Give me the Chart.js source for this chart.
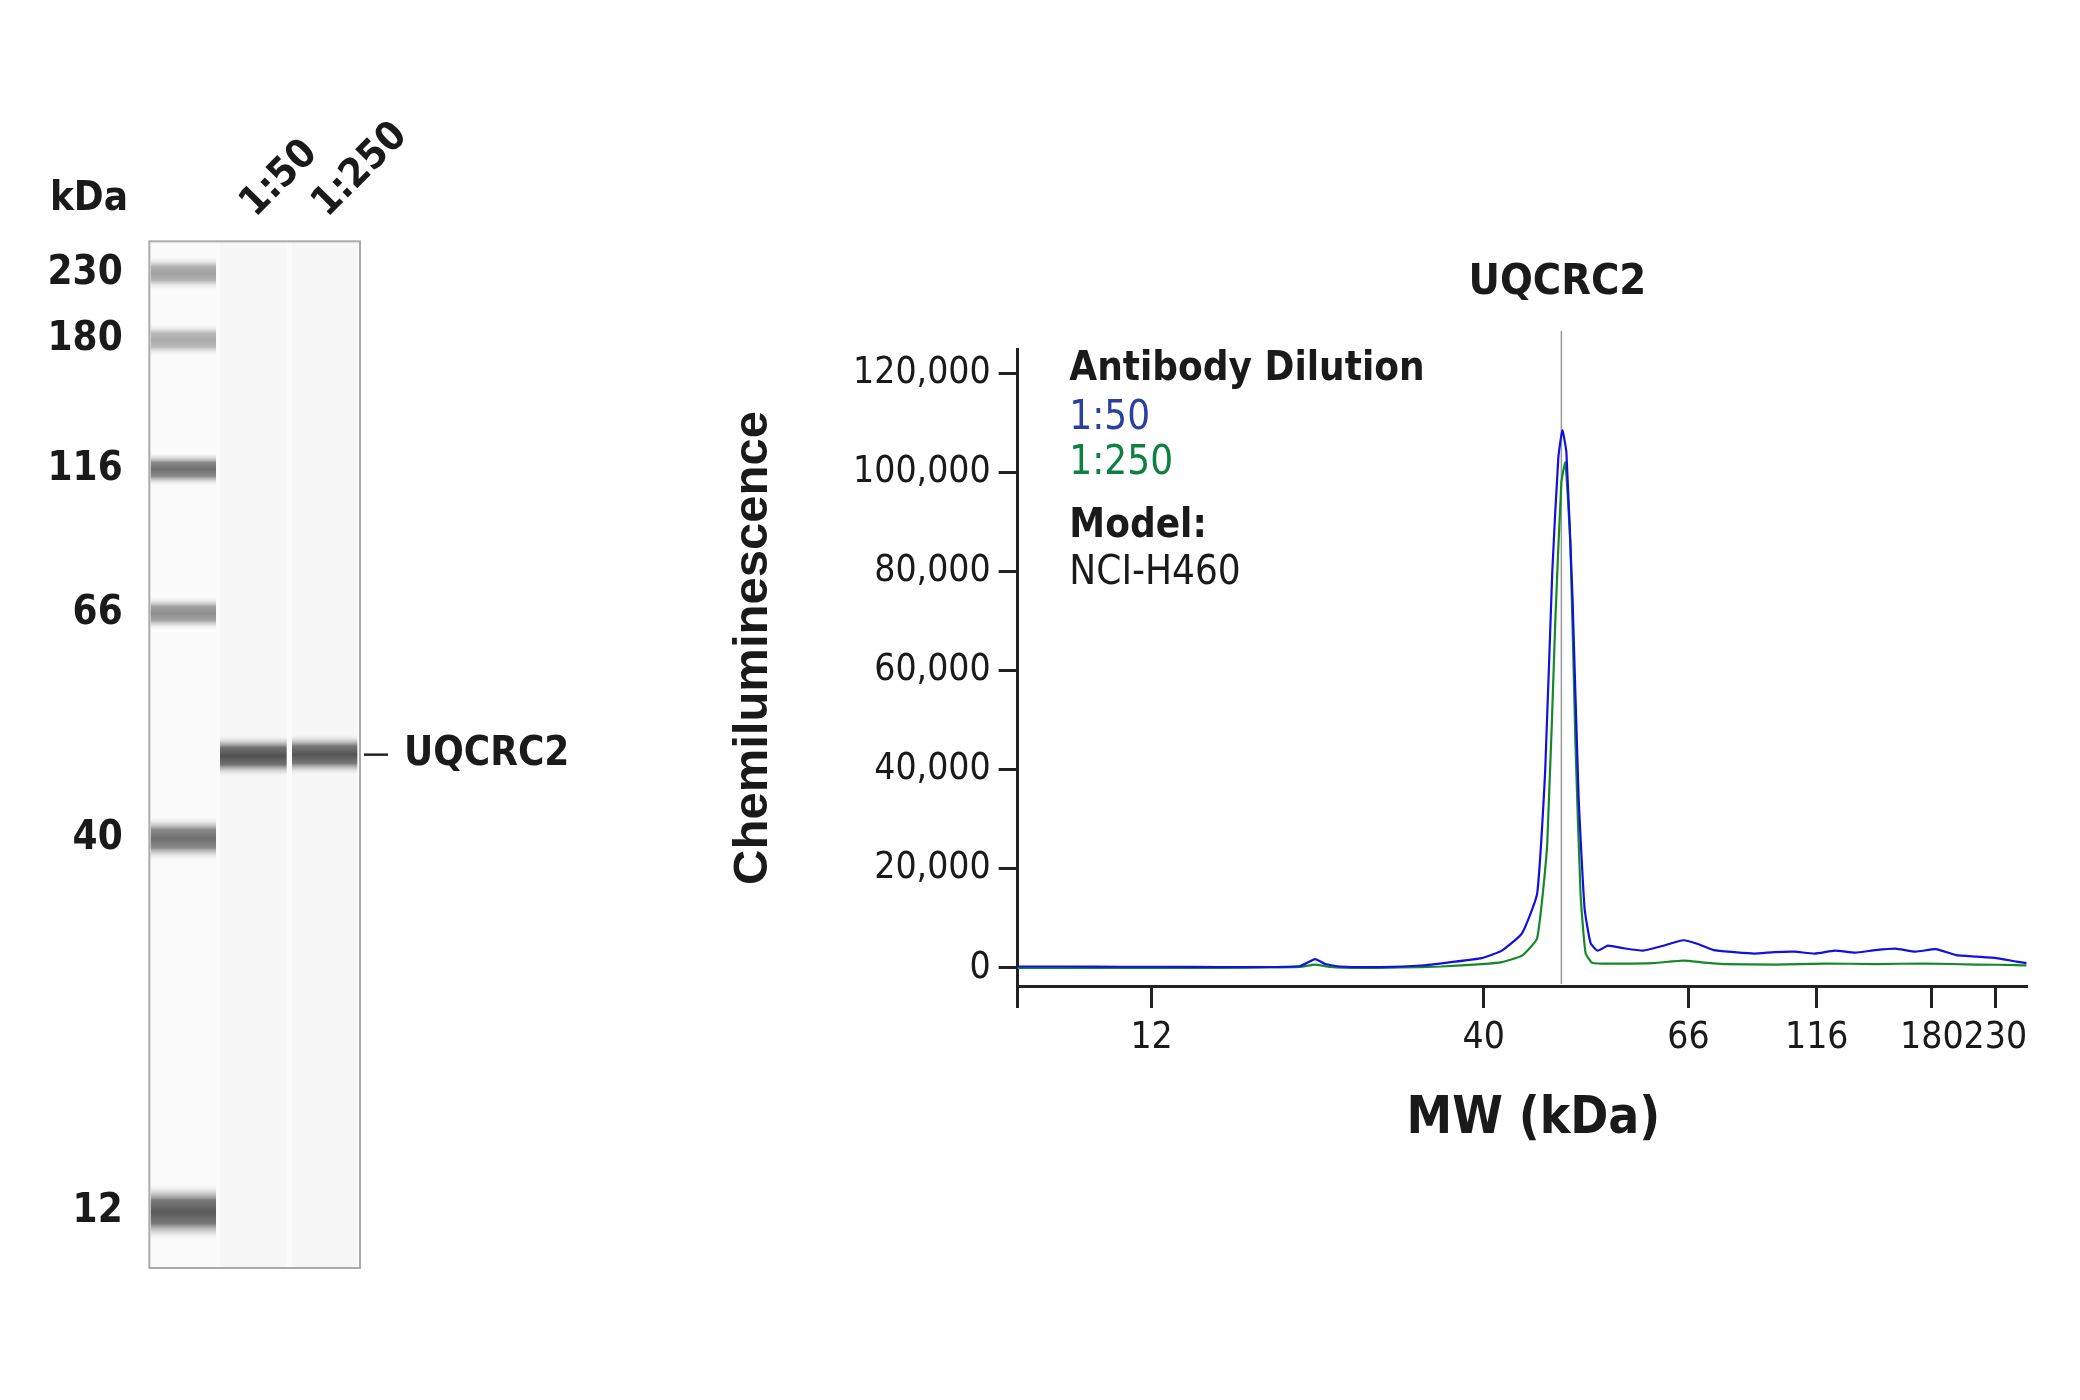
<!DOCTYPE html>
<html><head><meta charset="utf-8">
<script src="https://cdn.jsdelivr.net/npm/chart.js@4"></script>
<style>body{margin:0;background:#fff;width:2080px;height:1400px;overflow:hidden}
canvas{position:absolute;left:0;top:0}</style></head>
<body>
<canvas id="gel" width="2080" height="1400"></canvas>
<canvas id="ep" width="2080" height="1400"></canvas>
<script>
// ---- data ----
const ladderKDa = ["230","180","116","66","40","12"];
const ladderMigration = [24, 74, 171, 279, 448, 728];   // band position down the gel
const ladderIntensity = [0.45, 0.4, 0.7, 0.55, 0.7, 0.8];
const laneNames = ["1:50", "1:250"];
const sampleMigration = [386, 385];
const sampleIntensity = [0.85, 0.82];
const mwTickLabels = ["12","40","66","116","180","230"];
const mwTickPos = [13.3, 46.2, 66.5, 79.2, 90.6, 96.9];
const peakPos = 53.9;
const blueX = [0,5,10,15,20,25,28,29.5,30.5,32,36,40,43,46,48,50,51.5,52.3,53,53.6,54.0,54.4,55,55.6,56.2,56.8,57.5,58.5,60,62,64,66,67.5,69,71,73,75,77,79,81,83,85,87,89,91,93,95,97,99,100];
const blueY = [300,300,250,250,200,200,400,1800,800,300,200,500,1200,2000,3500,7000,15000,40000,80000,103000,108500,104000,75000,35000,12000,5000,3500,4500,4000,3500,4500,5600,4800,3600,3200,2900,3200,3300,2900,3500,3100,3600,3900,3300,3800,2600,2300,2000,1300,1000];
const greenX = [0,5,10,15,20,25,28,29.5,31,34,38,42,46,48,50,51.5,52.5,53.3,53.9,54.3,54.8,55.3,55.8,56.3,57,60,63,66,68,70,75,80,85,90,95,99,100];
const greenY = [0,0,0,0,0,100,200,700,200,0,100,300,800,1200,2500,6000,25000,70000,98000,102000,85000,45000,15000,3000,1000,900,1000,1500,1100,800,700,900,800,900,700,600,500];

const SX = 4/3, SY = 4/3;
const X = v => v*SX, Y = v => v*SY;
const FONT = "'Liberation Sans Narrow','DejaVu Sans Condensed',sans-serif";
const f = (px, bold) => (bold ? "bold " : "") + Math.round(px*SX) + "px " + FONT;

// ---- gel ----
new Chart(document.getElementById('gel'), {
  type: 'scatter',
  data: { datasets: [] },
  options: {
    responsive: false, animation: false, devicePixelRatio: 1,
    layout: { padding: { top: Y(181), right: 2080 - X(270), bottom: 1400 - Y(951), left: 0 } },
    plugins: { legend: { display: false }, tooltip: { enabled: false } },
    scales: {
      x: { type: 'linear', min: 0, max: 3, display: false },
      y: { type: 'linear', min: 0, max: 770, reverse: true,
        afterFit: s => { s.width = X(112); },
        afterBuildTicks: s => { s.ticks = ladderMigration.map(v => ({ value: v })); },
        ticks: { callback: (v, i) => ladderKDa[i], color: '#1a1a1a', font: { family: FONT, size: Math.round(30*SX), weight: 'bold' }, padding: X(14) },
        grid: { display: false }, border: { display: false } }
    }
  },
  plugins: [{
    id: 'gelDraw',
    beforeDatasetsDraw(chart) {
      const { ctx, chartArea: a, scales: { x, y } } = chart;
      ctx.save();
      ctx.fillStyle = '#fbfbfb'; ctx.fillRect(a.left, a.top, a.right - a.left, a.bottom - a.top);
      const laneEdges = [[113,162],[165,215],[219,268]];
      laneEdges.forEach((e, i) => { if (i) { ctx.fillStyle = '#f7f7f7'; ctx.fillRect(X(e[0]), a.top, X(e[1]) - X(e[0]), a.bottom - a.top); } });
      const band = (l, r, m, h, k) => {
        const yc = y.getPixelForValue(m);
        const g = ctx.createLinearGradient(0, yc - h, 0, yc + h);
        const c = Math.round(250 - 200*k);
        g.addColorStop(0, 'rgba(255,255,255,0)');
        g.addColorStop(0.3, `rgba(${c},${c},${c},0.8)`);
        g.addColorStop(0.5, `rgb(${c},${c},${c})`);
        g.addColorStop(0.7, `rgba(${c},${c},${c},0.8)`);
        g.addColorStop(1, 'rgba(255,255,255,0)');
        ctx.fillStyle = g; ctx.fillRect(l, yc - h, r - l, 2*h);
      };
      ladderMigration.forEach((m, i) => band(X(113), X(162), m, Y(i === 5 ? 22 : (i === 4 ? 17 : 13)), ladderIntensity[i]));
      sampleMigration.forEach((m, i) => band(X(laneEdges[i+1][0]), X(laneEdges[i+1][1]), m, Y(16), sampleIntensity[i]));
      ctx.strokeStyle = '#aaa'; ctx.lineWidth = 2;
      ctx.strokeRect(a.left, a.top, a.right - a.left, a.bottom - a.top);
      ctx.fillStyle = '#1a1a1a'; ctx.font = f(30, true); ctx.textAlign = 'right'; ctx.textBaseline = 'middle';
      ctx.fillText('kDa', X(96), Y(150));
      laneNames.forEach((n, i) => {
        ctx.save(); ctx.translate(X([186, 240][i]), Y(158)); ctx.rotate(-Math.PI/4);
        ctx.textAlign = 'left'; ctx.fillText(n, 0, 0); ctx.restore();
      });
      const yb = y.getPixelForValue(sampleMigration[1]);
      ctx.strokeStyle = '#222'; ctx.lineWidth = 2.5;
      ctx.beginPath(); ctx.moveTo(X(273), yb); ctx.lineTo(X(291), yb); ctx.stroke();
      ctx.textAlign = 'left'; ctx.fillText('UQCRC2', X(303), yb);
      ctx.restore();
    }
  }]
});

// ---- electropherogram ----
new Chart(document.getElementById('ep'), {
  type: 'line',
  data: { datasets: [
    { data: blueX.map((v, i) => ({ x: v, y: blueY[i] })), borderColor: '#1010e0', borderWidth: 2.2, pointRadius: 0, tension: 0.15 },
    { data: greenX.map((v, i) => ({ x: v, y: greenY[i] })), borderColor: '#17882a', borderWidth: 2.2, pointRadius: 0, tension: 0.15 }
  ] },
  options: {
    responsive: false, animation: false, devicePixelRatio: 1,
    layout: { padding: { top: Y(262), right: 2080 - X(1520), bottom: 0, left: 0 } },
    plugins: { legend: { display: false }, tooltip: { enabled: false } },
    scales: {
      x: { type: 'linear', min: 0, max: 100,
        afterFit: s => { s.height = 1400 - Y(740); },
        afterBuildTicks: s => { s.ticks = [{ value: 0 }].concat(mwTickPos.map(v => ({ value: v }))); },
        ticks: { autoSkip: false, maxRotation: 0, callback: (v, i) => i ? mwTickLabels[i-1] : '', color: '#1a1a1a', font: { family: FONT, size: Math.round(28*SX) }, padding: Y(6) },
        grid: { drawOnChartArea: false, tickLength: Y(16), color: '#222', lineWidth: 3 },
        border: { color: '#222', width: 3 } },
      y: { type: 'linear', min: -3767, max: 124843,
        afterFit: s => { s.width = X(763); },
        afterBuildTicks: s => { s.ticks = [0,20000,40000,60000,80000,100000,120000].map(v => ({ value: v })); },
        ticks: { callback: v => v.toLocaleString('en-US'), color: '#1a1a1a', font: { family: FONT, size: Math.round(28*SX) }, padding: X(6) },
        grid: { drawOnChartArea: false, tickLength: X(14), color: '#222', lineWidth: 3 },
        border: { color: '#222', width: 3 } }
    }
  },
  plugins: [{
    id: 'epText',
    beforeDatasetsDraw(chart) {
      const { ctx, scales: { x } } = chart;
      const px = x.getPixelForValue(peakPos);
      ctx.save(); ctx.strokeStyle = '#999'; ctx.lineWidth = 1.5;
      ctx.beginPath(); ctx.moveTo(px, Y(248)); ctx.lineTo(px, Y(738)); ctx.stroke(); ctx.restore();
    },
    afterDraw(chart) {
      const { ctx, scales: { x } } = chart;
      ctx.save(); ctx.textBaseline = 'middle';
      ctx.textAlign = 'center'; ctx.fillStyle = '#1a1a1a'; ctx.font = f(32, true);
      ctx.fillText('UQCRC2', x.getPixelForValue(peakPos) - X(3), Y(212));
      ctx.font = f(38, true); ctx.fillText('MW (kDa)', X(1150), Y(840));
      ctx.textAlign = 'left';
      ctx.font = f(30, true); ctx.fillText('Antibody Dilution', X(802), Y(277));
      ctx.font = f(30); ctx.fillStyle = '#2b3f9e'; ctx.fillText('1:50', X(802), Y(314));
      ctx.fillStyle = '#0b8040'; ctx.fillText('1:250', X(802), Y(348));
      ctx.fillStyle = '#1a1a1a'; ctx.font = f(30, true); ctx.fillText('Model:', X(802), Y(395));
      ctx.font = f(30); ctx.fillText('NCI-H460', X(802), Y(430));
      ctx.translate(X(565), Y(486)); ctx.rotate(-Math.PI/2); ctx.textAlign = 'center';
      ctx.font = "bold " + Math.round(37*SX) + "px 'Liberation Sans','DejaVu Sans',sans-serif";
      ctx.fillText('Chemiluminescence', 0, 0);
      ctx.restore();
    }
  }]
});
</script>
</body></html>
